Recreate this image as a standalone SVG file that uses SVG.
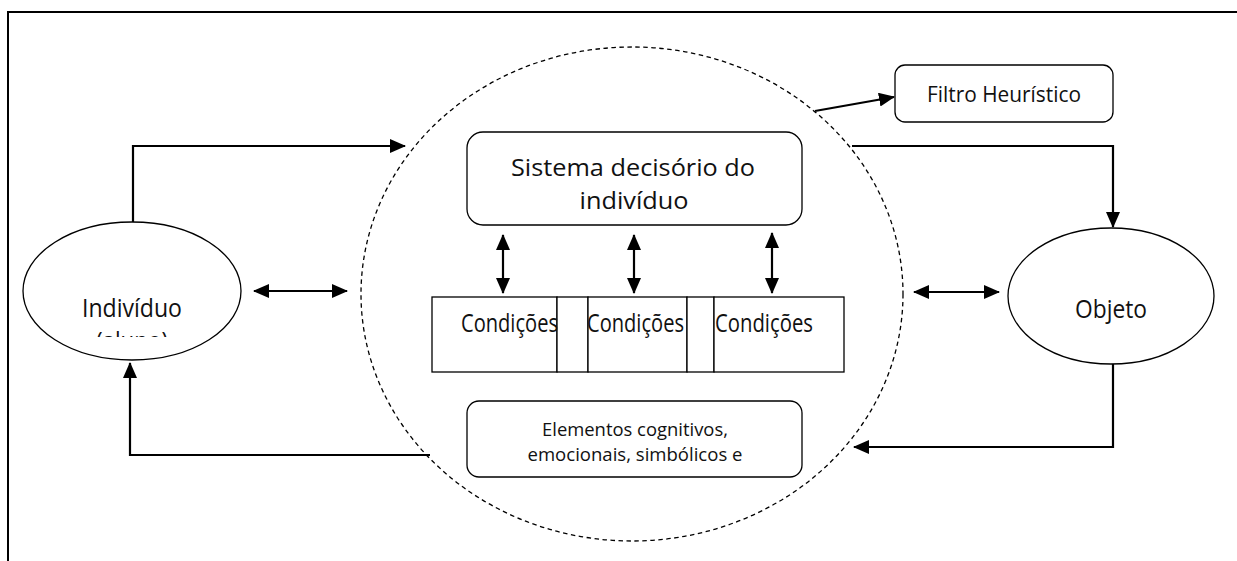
<svg xmlns="http://www.w3.org/2000/svg" width="1237" height="561" viewBox="0 0 1237 561">
<style>
  .t{font-family:"Open Sans","Liberation Sans",sans-serif;fill:#111;}
  .box{fill:#fff;stroke:#000;stroke-width:1.3;}
  .ell{fill:#fff;stroke:#000;stroke-width:1.3;}
  .con{fill:none;stroke:#000;stroke-width:2.2;}
</style>
<defs>
  <marker id="ah" viewBox="0 0 16 14" refX="15" refY="7" markerWidth="16" markerHeight="14" markerUnits="userSpaceOnUse" orient="auto-start-reverse">
    <path d="M0,0 L16,7 L0,14 z" fill="#000"/>
  </marker>
  <clipPath id="clipInd"><rect x="40" y="240" width="190" height="97"/></clipPath>
</defs>
<rect x="0" y="0" width="1237" height="561" fill="#fff"/>
<path d="M8,561 V12 H1237" fill="none" stroke="#000" stroke-width="2"/>

<g id="circle-boundary">
  <ellipse cx="632" cy="294" rx="271" ry="247" fill="none" stroke="#000" stroke-width="1.3" stroke-dasharray="4.5,3.5"/>
</g>

<g id="connectors">
  <path class="con" d="M133,222 V146 H405" marker-end="url(#ah)"/>
  <path class="con" d="M430,455 H130 V363" marker-end="url(#ah)"/>
  <path class="con" d="M852,146 H1113 V227" marker-end="url(#ah)"/>
  <path class="con" d="M1113,364 V447 H854" marker-end="url(#ah)"/>
  <path class="con" d="M815,111 L894,97" marker-end="url(#ah)"/>
  <path class="con" d="M254,291 H347" marker-start="url(#ah)" marker-end="url(#ah)"/>
  <path class="con" d="M914,292 H999" marker-start="url(#ah)" marker-end="url(#ah)"/>
  <path class="con" d="M503,235 V293" marker-start="url(#ah)" marker-end="url(#ah)"/>
  <path class="con" d="M634,235 V293" marker-start="url(#ah)" marker-end="url(#ah)"/>
  <path class="con" d="M772,233 V293" marker-start="url(#ah)" marker-end="url(#ah)"/>
</g>

<g id="individuo">
  <ellipse class="ell" cx="132" cy="291" rx="109" ry="69"/>
  <text class="t" x="132" y="317" font-size="25" text-anchor="middle" textLength="100" lengthAdjust="spacingAndGlyphs">Indivíduo</text>
  <text class="t" x="132" y="350" font-size="25" text-anchor="middle" textLength="72" lengthAdjust="spacingAndGlyphs" clip-path="url(#clipInd)">(aluno)</text>
</g>

<g id="objeto">
  <ellipse class="ell" cx="1111" cy="296" rx="103" ry="68"/>
  <text class="t" x="1111" y="318" font-size="25" text-anchor="middle" textLength="72" lengthAdjust="spacingAndGlyphs">Objeto</text>
</g>

<g id="filtro">
  <rect class="box" x="895" y="65" width="218" height="57" rx="10"/>
  <text class="t" x="1004" y="102" font-size="22" text-anchor="middle" textLength="154" lengthAdjust="spacingAndGlyphs">Filtro Heurístico</text>
</g>

<g id="sistema">
  <rect class="box" x="467" y="132" width="335" height="93" rx="16"/>
  <text class="t" x="633" y="176" font-size="24" text-anchor="middle" textLength="244" lengthAdjust="spacingAndGlyphs">Sistema decisório do</text>
  <text class="t" x="634" y="209" font-size="24" text-anchor="middle" textLength="109" lengthAdjust="spacingAndGlyphs">indivíduo</text>
</g>

<g id="condicoes">
  <rect class="box" x="432" y="297" width="125" height="75"/>
  <rect class="box" x="557" y="297" width="31" height="75"/>
  <rect class="box" x="588" y="297" width="99" height="75"/>
  <rect class="box" x="687" y="297" width="27" height="75"/>
  <rect class="box" x="714" y="297" width="130" height="75"/>
  <text class="t" x="461" y="332" font-size="25" textLength="97" lengthAdjust="spacingAndGlyphs">Condições</text>
  <text class="t" x="587" y="332" font-size="25" textLength="97" lengthAdjust="spacingAndGlyphs">Condições</text>
  <text class="t" x="715" y="332" font-size="25" textLength="98" lengthAdjust="spacingAndGlyphs">Condições</text>
</g>

<g id="elementos">
  <rect class="box" x="467" y="401" width="335" height="76" rx="12"/>
  <text class="t" x="635" y="436" font-size="18" text-anchor="middle" textLength="186" lengthAdjust="spacingAndGlyphs">Elementos cognitivos,</text>
  <text class="t" x="635" y="461" font-size="18" text-anchor="middle" textLength="215" lengthAdjust="spacingAndGlyphs">emocionais, simbólicos e</text>
</g>
</svg>
